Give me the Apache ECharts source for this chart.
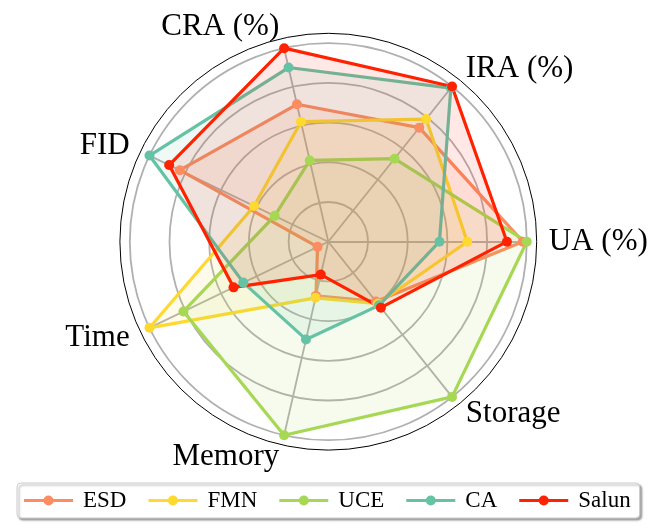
<!DOCTYPE html>
<html>
<head>
<meta charset="utf-8">
<script src="https://cdn.jsdelivr.net/npm/echarts@6/dist/echarts.min.js"></script>
<style>
html,body{margin:0;padding:0;background:#fff;}
#c{width:664px;height:532px;}
</style>
</head>
<body>
<div id="c"></div>
<script>
const indicators = ['UA (%)', 'IRA (%)', 'CRA (%)', 'FID', 'Time', 'Memory', 'Storage'];
const seriesNames = ['ESD', 'FMN', 'UCE', 'CA', 'Salun'];
const colors = ['#fc8d62', '#ffd92f', '#a6d854', '#66c2a5', '#ff2200'];
const ESD   = [0.98, 0.735, 0.71, 0.83, 0.06, 0.28, 0.385];
const FMN   = [0.70, 0.79, 0.62, 0.415, 1.00, 0.29, 0.40];
const UCE   = [1.00, 0.535, 0.42, 0.30, 0.81, 1.00, 1.00];
const CA    = [0.56, 0.99, 0.90, 1.00, 0.475, 0.505, 0.41];
const Salun = [0.90, 1.00, 1.00, 0.89, 0.53, 0.17, 0.425];
const values = [ESD, FMN, UCE, CA, Salun];

const chart = echarts.init(document.getElementById('c'), null, {renderer: 'canvas'});
const legendIcon = 'path://M0,3.5L49,3.5L49,6.5L0,6.5Z M19.5,5A5,5,0,1,1,29.5,5A5,5,0,1,1,19.5,5Z';
const legendText = {
  fontFamily: 'Liberation Serif',
  fontSize: 23,
  color: '#000',
  padding: [0, 0, 0, 5]
};

const option = {
  backgroundColor: '#ffffff',
  animation: false,
  textStyle: {fontFamily: 'Liberation Serif'},
  legend: {
    data: seriesNames.map(n => ({name: n, icon: legendIcon, textStyle: legendText})),
    left: 17,
    top: 483,
    itemWidth: 49,
    itemHeight: 10,
    itemGap: 22,
    padding: [6, 9, 6, 7],
    backgroundColor: '#ffffff',
    borderColor: '#cccccc',
    borderWidth: 1,
    borderRadius: 4,
    shadowColor: 'rgba(0,0,0,0.35)',
    shadowBlur: 2,
    shadowOffsetX: 2,
    shadowOffsetY: 2,
    textStyle: legendText
  },
  radar: [
    {
      center: [328.3, 241.7],
      radius: 198.5,
      startAngle: 0,
      shape: 'circle',
      splitNumber: 5,
      nameGap: 22,
      indicator: indicators.map(n => ({name: n, min: 0, max: 1})),
      axisName: {
        color: '#000',
        fontFamily: 'Liberation Serif',
        fontSize: 31
      },
      axisLine: {lineStyle: {color: '#b0b0b0', width: 1.8}},
      splitLine: {lineStyle: {color: '#b0b0b0', width: 1.8}},
      splitArea: {show: false},
      axisTick: {show: false},
      axisLabel: {show: false}
    },
    {
      center: [328.3, 241.7],
      radius: 208.4,
      startAngle: 0,
      shape: 'circle',
      splitNumber: 1,
      indicator: indicators.map(n => ({name: n, min: 0, max: 1})),
      axisName: {show: false},
      axisLine: {show: false},
      splitLine: {lineStyle: {color: '#000', width: 1}},
      splitArea: {show: false}
    }
  ],
  series: seriesNames.map((n, i) => ({
    type: 'radar',
    name: n,
    radarIndex: 0,
    symbol: 'circle',
    symbolSize: 10,
    lineStyle: {width: 3.2, color: colors[i]},
    itemStyle: {color: colors[i]},
    areaStyle: {color: colors[i], opacity: 0.1},
    data: [{name: n, value: values[i]}]
  }))
};
chart.setOption(option);
</script>
</body>
</html>
